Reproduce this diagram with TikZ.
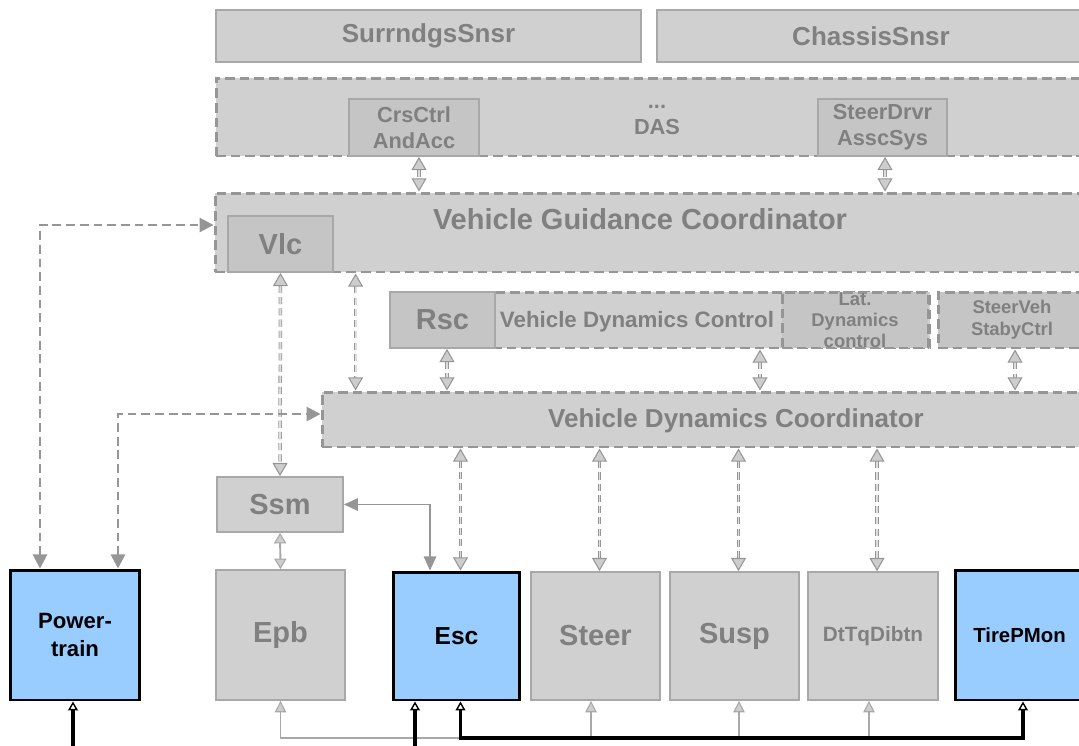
\documentclass[tikz,border=0pt]{standalone}
\usepackage{fontspec}
\setmainfont{Liberation Sans}
\usetikzlibrary{arrows.meta, positioning, calc}

\definecolor{boxfill}{RGB}{208,208,208}
\definecolor{innerfill}{RGB}{197,197,197}
\definecolor{edgegray}{RGB}{168,168,168}
\definecolor{dashgray}{RGB}{150,150,150}
\definecolor{txtgray}{RGB}{128,128,128}
\definecolor{ecublue}{RGB}{153,204,255}
\definecolor{tipfill}{RGB}{205,205,205}
\definecolor{shaftfill}{RGB}{222,222,222}

\begin{document}
\begin{tikzpicture}[
    x=0.02cm, y=-0.02cm,
    huge/.style={font=\bfseries\fontsize{16.5}{19}\selectfont},
    big/.style={font=\bfseries\fontsize{14.8}{17}\selectfont},
    mid/.style={font=\bfseries\fontsize{12.4}{14.8}\selectfont},
    small/.style={font=\bfseries\fontsize{10.5}{12.5}\selectfont},
    box/.style={draw=edgegray, line width=1pt, fill=boxfill, text=txtgray, align=center, inner sep=0pt},
    grp/.style={box, draw=dashgray, line width=1.7pt, dash pattern=on 5.5pt off 2.8pt},
    sub/.style={box, fill=innerfill},
    ecu/.style={draw=black, line width=1.7pt, fill=ecublue, text=black, align=center, inner sep=0pt},
    dlink/.style={draw=dashgray, line width=0.45pt, double=shaftfill, double distance=1.1pt,
        dash pattern=on 4pt off 2.4pt,
        {Triangle[length=7.5pt, width=8.5pt, fill=tipfill, line width=0.6pt]}-{Triangle[length=7.5pt, width=8.5pt, fill=tipfill, line width=0.6pt]}},
    glink/.style={draw=edgegray, line width=1.1pt,
        {Triangle[length=6pt, width=7pt, fill=tipfill, line width=0.6pt]}-{Triangle[length=6pt, width=7pt, fill=tipfill, line width=0.6pt]}},
    slink/.style={draw=dashgray, line width=1.1pt,
        {Triangle[length=8pt, width=7pt]}-{Triangle[length=8pt, width=7pt]}},
    plink/.style={draw=dashgray, line width=1.5pt, dash pattern=on 5pt off 2.8pt,
        {Triangle[length=8pt, width=8pt]}-{Triangle[length=8pt, width=8pt]}},
    gbus/.style={draw=edgegray, line width=1.1pt},
    gtip/.style={{Triangle[length=6.5pt, width=6.5pt, fill=tipfill, line width=0.6pt]}-},
    cbus/.style={draw=black, line width=1.8pt},
    ctip/.style={-{Triangle[length=5pt, width=5.5pt, fill=white, line width=0.8pt]}},
]
    \useasboundingbox (0,0) rectangle (1079,745);

    % sensor row
    \node[box, big, minimum width=8.5cm, minimum height=1.04cm] (sur) at (428.5,36) {SurrndgsSnsr};
    \node[box, big, minimum width=8.56cm, minimum height=1.04cm] (chs) at (871,36) {ChassisSnsr};

    % driver assistance systems
    \node[grp, minimum width=17.64cm, minimum height=1.56cm] (das) at (657,117) {};
    \node[mid, text=txtgray, align=center] (dast) at (657,120) {...\\DAS};
    \node[sub, mid, minimum width=2.6cm, minimum height=1.14cm] (acc) at (414,127.5) {CrsCtrl\\AndAcc};
    \node[sub, mid, minimum width=2.58cm, minimum height=1.14cm] (sda) at (882.5,127.5) {SteerDrvr\\AsscSys};

    % guidance layer
    \node[grp, minimum width=17.7cm, minimum height=1.58cm] (vgc) at (657.5,232.5) {};
    \node[huge, text=txtgray] (vgct) at (640,219) {Vehicle Guidance Coordinator};
    \node[sub, huge, minimum width=2.1cm, minimum height=1.12cm] (vlc) at (280.5,244) {Vlc};

    % dynamics control row
    \node[grp, minimum width=10.8cm, minimum height=1.12cm] (vdc) at (660,320) {};
    \node[sub, huge, minimum width=2.1cm, minimum height=1.12cm] (rsc) at (442.5,320) {Rsc};
    \node[font=\bfseries\fontsize{12.7}{15}\selectfont, text=txtgray] (vdct) at (637,322) {Vehicle Dynamics Control};
    \node[grp, fill=innerfill, small, minimum width=2.92cm, minimum height=1.12cm] (lat) at (855,320) {Lat.\\[-0.5pt]Dynamics\\[-0.5pt]control};
    \node[grp, fill=innerfill, small, minimum width=2.96cm, minimum height=1.12cm] (ssc) at (1012,320) {SteerVeh\\StabyCtrl};

    % dynamics coordinator
    \node[grp, minimum width=15.46cm, minimum height=1.1cm] (vdco) at (708.5,419.5) {};
    \node[big, text=txtgray] (vdcot) at (736,421) {Vehicle Dynamics Coordinator};

    % ECUs
    \node[box, huge, minimum width=2.52cm, minimum height=1.1cm] (ssm) at (280,504.5) {Ssm};
    \node[box, huge, minimum width=2.58cm, minimum height=2.6cm] (epb) at (280.5,635) {\raisebox{-2pt}{Epb}};
    \node[ecu, font=\bfseries\fontsize{14}{16}\selectfont, minimum width=2.54cm, minimum height=2.56cm] (esc) at (456.5,636) {Esc};
    \node[box, huge, minimum width=2.58cm, minimum height=2.56cm] (str) at (595.5,636) {Steer};
    \node[box, huge, minimum width=2.58cm, minimum height=2.56cm] (sus) at (734.5,636) {\raisebox{-2pt}{Susp}};
    \node[box, font=\bfseries\fontsize{11.8}{14}\selectfont, minimum width=2.6cm, minimum height=2.56cm] (dtq) at (873,636) {DtTqDibtn};
    \node[ecu, font=\bfseries\fontsize{11.6}{14}\selectfont, minimum width=2.58cm, minimum height=2.6cm] (tpm) at (1019.5,635) {TirePMon};
    \node[ecu, font=\bfseries\fontsize{12.6}{16}\selectfont, minimum width=2.6cm, minimum height=2.6cm] (pwt) at (75,635) {Power-\\train};

    % links between layers
    \draw[dlink] ($(acc.south)+(5,0)$) -- ($(acc.south |- vgc.north)+(5,0)$);
    \draw[dlink] ($(sda.south)+(2.5,0)$) -- ($(sda.south |- vgc.north)+(2.5,0)$);
    \draw[dlink] (vlc.south) -- (ssm.north);
    \draw[dlink] ($(vdco.north west |- vgc.south)+(35,0)$) -- ($(vdco.north west)+(35,0)$);
    \draw[dlink] ($(rsc.south)+(4.5,0)$) -- ($(rsc.south |- vdco.north)+(4.5,0)$);
    \draw[dlink] ($(vdc.south)+(100,0)$) -- ($(vdc.south |- vdco.north)+(100,0)$);
    \draw[dlink] ($(ssc.south)+(3,0)$) -- ($(ssc.south |- vdco.north)+(3,0)$);
    \foreach \n in {esc,str,sus,dtq}
        \draw[dlink] ($(\n.north)+(4,0)$) -- ($(\n.north |- vdco.south)+(4,0)$);

    \draw[glink] (ssm.south) -- (epb.north);
    \draw[slink] (ssm.east) -| ($(esc.north)+(-26.5,0)$);

    % powertrain
    \draw[plink] ($(pwt.north)+(-35,0)$) |- ($(vgc.west)+(0,-7.5)$);
    \draw[plink] ($(pwt.north)+(43,0)$) |- ($(vdco.west)+(0,-5.5)$);

    % bus lines
    \coordinate (bot) at (0,752);
    \coordinate (bus) at (0,738);
    \draw[gbus, gtip] (epb.south) |- ($(esc.south |- bus)+(4,0)$);
    \foreach \n/\dx in {str/-4.5, sus/4.5, dtq/-4}
        \draw[gbus, gtip] ($(\n.south)+(\dx,0)$) -- ($(\n.south |- bus)+(\dx,0)$);
    \draw[cbus, {Triangle[length=5pt, width=5.5pt, fill=white, line width=0.8pt]}-{Triangle[length=5pt, width=5.5pt, fill=white, line width=0.8pt]}]
        ($(esc.south)+(4,0)$) |- ($(tpm.south |- bus)+(3.5,0)$) -- ($(tpm.south)+(3.5,0)$);
    \draw[cbus, ctip] ($(pwt.south |- bot)+(-2,0)$) -- ($(pwt.south)+(-2,0)$);
    \draw[cbus, ctip] ($(esc.south |- bot)+(-41.5,0)$) -- ($(esc.south)+(-41.5,0)$);
\end{tikzpicture}
\end{document}
